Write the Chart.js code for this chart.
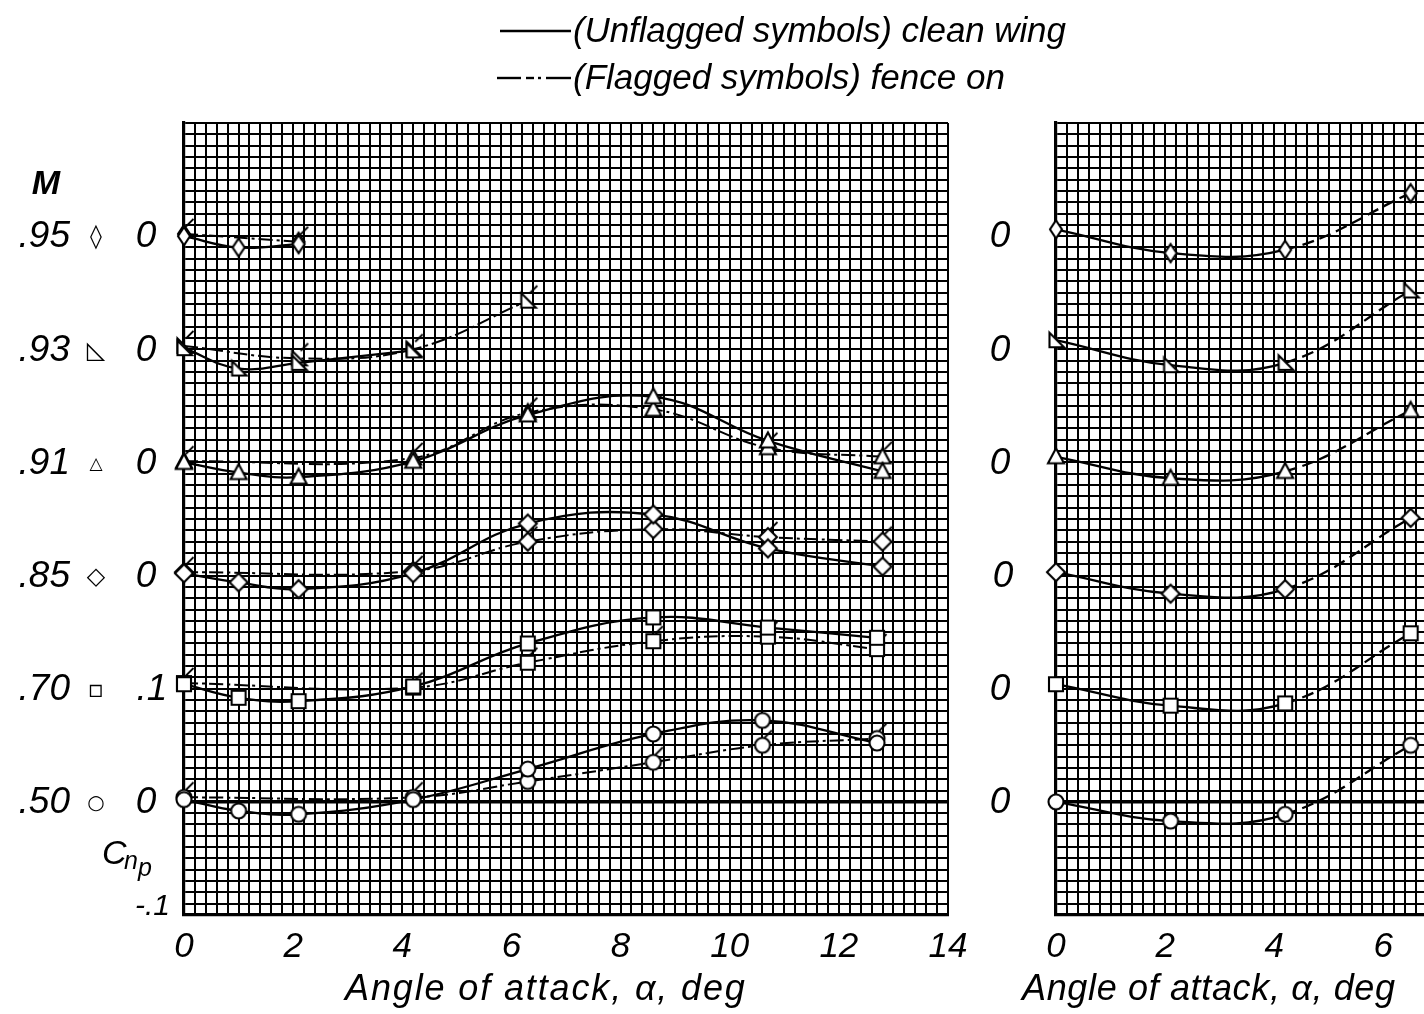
<!DOCTYPE html>
<html><head><meta charset="utf-8">
<script src="https://cdn.jsdelivr.net/npm/chart.js@4/dist/chart.umd.min.js"></script>
<style>
html,body{margin:0;padding:0;background:#fff;overflow:hidden;width:1424px;height:1014px;position:relative;}
canvas{position:absolute;top:0;}
#c1{left:0;}
#c2{left:970px;}
</style></head><body>
<canvas id="c1" width="1100" height="1014"></canvas>
<canvas id="c2" width="470" height="1014"></canvas>
<script>
// ---------------- DATA ----------------
const machLabels   = ['.50', '.70', '.85', '.91', '.93', '.95'];
const machSymbols  = ['○', '▫', '◇', '△', '◺', '◊'];
const rowOffsets   = [0, 0.1, 0.2, 0.3, 0.4, 0.5];
const cnpRowLabels = ['0', '.1', '0', '0', '0', '0'];
const rightRowLabels = ['0', '0', '0', '0', '0', '0'];
const cnpBottomLabel = '-.1';
const xTickLabelsLeft = [0, 2, 4, 6, 8, 10, 12, 14];
const xTickLabelsRight = [0, 2, 4, 6];
const xTitle = 'Angle of attack, α, deg';
const legendTexts = ['(Unflagged symbols) clean wing', '(Flagged symbols) fence on'];

// M = .50
const alpha50Clean = [0, 1, 2.1, 4.2, 6.3, 8.6, 10.6, 12.7];
const cnp50Clean   = [0.002, -0.008, -0.011, 0.002, 0.029, 0.060, 0.072, 0.052];
const alpha50Fence = [0, 4.2, 6.3, 8.6, 10.6, 12.7];
const cnp50Fence   = [0.004, 0.004, 0.018, 0.035, 0.050, 0.056];
// M = .70
const alpha70Clean = [0, 1, 2.1, 4.2, 6.3, 8.6, 10.7, 12.7];
const cnp70Clean   = [0.004, -0.008, -0.011, 0.002, 0.040, 0.063, 0.054, 0.045];
const alpha70Fence = [0, 4.2, 6.3, 8.6, 10.7, 12.7];
const cnp70Fence   = [0.005, 0.001, 0.023, 0.042, 0.046, 0.035];
// M = .85
const alpha85Clean = [0, 1, 2.1, 4.2, 6.3, 8.6, 10.7, 12.8];
const cnp85Clean   = [0.002, -0.006, -0.012, 0.002, 0.046, 0.054, 0.024, 0.008];
const alpha85Fence = [0, 4.2, 6.3, 8.6, 10.7, 12.8];
const cnp85Fence   = [0.003, 0.004, 0.030, 0.041, 0.034, 0.030];
// M = .91
const alpha91Clean = [0, 1, 2.1, 4.2, 6.3, 8.6, 10.7, 12.8];
const cnp91Clean   = [0.000, -0.009, -0.013, 0.001, 0.042, 0.058, 0.019, -0.008];
const alpha91Fence = [0, 4.2, 6.3, 8.6, 10.7, 12.8];
const cnp91Fence   = [0.001, 0.004, 0.044, 0.047, 0.013, 0.005];
// M = .93
const alpha93Clean = [0, 1, 2.1, 4.2];
const cnp93Clean   = [0.001, -0.017, -0.012, -0.001];
const alpha93Fence = [0, 2.1, 4.2, 6.3];
const cnp93Fence   = [0.003, -0.008, 0.000, 0.043];
// M = .95
const alpha95Clean = [0, 1, 2.1];
const cnp95Clean   = [0.000, -0.010, -0.007];
const alpha95Fence = [0, 2.1];
const cnp95Fence   = [0.002, -0.005];

// right panel
const alphaRight = [0, 2.1, 4.2, 6.5];
const cnpRight50 = [0.000, -0.017, -0.011, 0.050];
const cnpRight70 = [0.004, -0.015, -0.013, 0.049];
const cnpRight85 = [0.003, -0.016, -0.012, 0.051];
const cnpRight91 = [0.005, -0.014, -0.008, 0.046];
const cnpRight93 = [0.008, -0.014, -0.012, 0.052];
const cnpRight95 = [0.006, -0.015, -0.012, 0.038];

const cleanSets = [
  [alpha50Clean, cnp50Clean], [alpha70Clean, cnp70Clean], [alpha85Clean, cnp85Clean],
  [alpha91Clean, cnp91Clean], [alpha93Clean, cnp93Clean], [alpha95Clean, cnp95Clean]];
const fenceSets = [
  [alpha50Fence, cnp50Fence], [alpha70Fence, cnp70Fence], [alpha85Fence, cnp85Fence],
  [alpha91Fence, cnp91Fence], [alpha93Fence, cnp93Fence], [alpha95Fence, cnp95Fence]];
const rightSets = [cnpRight50, cnpRight70, cnpRight85, cnpRight91, cnpRight93, cnpRight95];

// ---------------- STYLE ----------------
const shapes = ['circle', 'square', 'diamond', 'triangle', 'rightTri', 'thinDiamond'];
const FONT = '"Liberation Sans", Arial, sans-serif';

function marker(shape, flag) {
  const c = document.createElement('canvas');
  c.width = 34; c.height = 34;
  const g = c.getContext('2d');
  g.translate(17, 17);
  g.lineWidth = 2.1; g.strokeStyle = '#000'; g.fillStyle = '#fff';
  g.beginPath();
  if (shape === 'circle') g.arc(0, 0, 7.5, 0, Math.PI * 2);
  else if (shape === 'square') g.rect(-7, -7, 14, 14);
  else if (shape === 'diamond') { g.moveTo(0, -9); g.lineTo(9, 0); g.lineTo(0, 9); g.lineTo(-9, 0); g.closePath(); }
  else if (shape === 'thinDiamond') { g.moveTo(0, -9); g.lineTo(6, 0); g.lineTo(0, 9); g.lineTo(-6, 0); g.closePath(); }
  else if (shape === 'triangle') { g.moveTo(0, -8.5); g.lineTo(8, 6.5); g.lineTo(-8, 6.5); g.closePath(); }
  else if (shape === 'rightTri') { g.moveTo(-6.5, -7.5); g.lineTo(-6.5, 7); g.lineTo(8, 7); g.closePath(); }
  g.fill(); g.stroke();
  if (flag) {
    g.beginPath(); g.lineWidth = 1.8;
    g.moveTo(2, -7.5); g.lineTo(9.5, -15); g.stroke();
  }
  return c;
}
const cleanMarkers = shapes.map(s => marker(s, false));
const fenceMarkers = shapes.map(s => marker(s, true));

function pts(alpha, cnp, off) { return alpha.map((a, k) => ({ x: a, y: off + cnp[k] })); }

function gridWidth(ctx) {
  const v = ctx.tick ? ctx.tick.value : 1;
  if (Math.abs(v) < 1e-9 && ctx.scale.axis === 'y') return 3.4;
  return 2;
}

function fitText(ctx, text, x1, x2, yMid, font) {
  ctx.font = font;
  ctx.letterSpacing = '0px';
  const w = ctx.measureText(text).width;
  const sp = (x2 - x1 - w) / Math.max(1, text.length - 1);
  ctx.letterSpacing = sp.toFixed(2) + 'px';
  ctx.textAlign = 'left'; ctx.textBaseline = 'middle';
  ctx.fillText(text, x1, yMid);
  ctx.letterSpacing = '0px';
}

function baseScales(xMax, yWidth, xTicks) {
  return {
    x: {
      type: 'linear', min: 0, max: xMax,
      grid: { color: '#000', lineWidth: gridWidth, drawTicks: false },
      border: { display: true, color: '#000', width: 3.2 },
      ticks: {
        stepSize: 0.2, autoSkip: false, maxRotation: 0, maxTicksLimit: 1000,
        padding: 11, color: '#000',
        font: { family: FONT, style: 'italic', size: 35 },
        callback: v => {
          const r = Math.round(v);
          return (Math.abs(v - r) < 1e-6 && xTicks.includes(r)) ? String(r) : '';
        }
      },
      afterFit: s => { s.height = 99; }
    },
    y: {
      type: 'linear', min: -0.1, max: 0.6,
      grid: { color: '#000', lineWidth: gridWidth, drawTicks: false },
      border: { display: true, color: '#000', width: 3.2 },
      ticks: { stepSize: 0.01, maxTicksLimit: 1000, display: false },
      afterFit: s => { s.width = yWidth; }
    }
  };
}

// ---------------- LEFT CHART ----------------
const leftDatasets = [];
for (let i = 0; i < 6; i++) {
  leftDatasets.push({
    data: pts(cleanSets[i][0], cleanSets[i][1], rowOffsets[i]),
    borderColor: '#000', borderWidth: 2.3, tension: 0.4, fill: false, clip: false,
    pointStyle: cleanMarkers[i], pointRadius: 8
  });
  leftDatasets.push({
    data: pts(fenceSets[i][0], fenceSets[i][1], rowOffsets[i]),
    borderColor: '#000', borderWidth: 2, tension: 0.4, fill: false, clip: false,
    borderDash: [14, 4, 3, 4],
    pointStyle: fenceMarkers[i], pointRadius: 8
  });
}

const leftText = {
  id: 'leftText',
  afterDraw(chart) {
    const ctx = chart.ctx, ys = chart.scales.y;
    ctx.save();
    ctx.fillStyle = '#000'; ctx.strokeStyle = '#000';
    // legend line samples
    ctx.lineWidth = 2.6;
    ctx.beginPath(); ctx.moveTo(500, 31); ctx.lineTo(571, 31); ctx.stroke();
    ctx.lineWidth = 2.4;
    [[497, 521], [526, 534], [538, 541], [546, 571]].forEach(s => {
      ctx.beginPath(); ctx.moveTo(s[0], 78); ctx.lineTo(s[1], 78); ctx.stroke();
    });
    fitText(ctx, legendTexts[0], 573, 1066, 32, 'italic 35px ' + FONT);
    fitText(ctx, legendTexts[1], 573, 1005, 79, 'italic 35px ' + FONT);
    // M header
    ctx.font = 'bold italic 34px ' + FONT;
    ctx.textAlign = 'center'; ctx.textBaseline = 'middle';
    ctx.fillText('M', 46, 185);
    const symSize = ['20px', '24px', '24px', '17px', '24px', '24px'];
    for (let i = 0; i < 6; i++) {
      const y = ys.getPixelForValue(rowOffsets[i]);
      ctx.font = 'italic 37px ' + FONT;
      ctx.textAlign = 'right'; ctx.textBaseline = 'middle';
      ctx.fillText(machLabels[i], 70, y + 1);
      ctx.font = 'bold ' + symSize[i] + ' "DejaVu Sans"';
      ctx.textAlign = 'center';
      ctx.fillText(machSymbols[i], 96, y + 2);
      ctx.font = 'italic 37px ' + FONT;
      ctx.fillText(cnpRowLabels[i], i === 1 ? 152 : 146, y + 1);
    }
    const yb = ys.getPixelForValue(-0.1);
    ctx.font = 'italic 30px ' + FONT;
    ctx.textAlign = 'right';
    ctx.fillText(cnpBottomLabel, 170, yb - 8);
    // Cnp
    ctx.textAlign = 'left';
    ctx.font = 'italic 34px ' + FONT; ctx.fillText('C', 102, 855);
    ctx.font = 'italic 25px ' + FONT; ctx.fillText('n', 124, 862);
    ctx.font = 'italic 25px ' + FONT; ctx.fillText('p', 138, 869);
    // x title
    fitText(ctx, xTitle, 345, 745, 990, 'italic 36px ' + FONT);
    ctx.restore();
  }
};

new Chart(document.getElementById('c1'), {
  type: 'line',
  data: { datasets: leftDatasets },
  options: {
    responsive: false, animation: false, devicePixelRatio: 1,
    layout: { padding: { left: 0, right: 152, top: 123, bottom: 0 } },
    plugins: { legend: { display: false }, tooltip: { enabled: false } },
    scales: baseScales(14, 184, xTickLabelsLeft)
  },
  plugins: [leftText]
});

// ---------------- RIGHT CHART ----------------
const rightDatasets = rightSets.map((cnp, i) => ({
  data: pts(alphaRight, cnp, rowOffsets[i]),
  borderColor: '#000', borderWidth: 2.3, tension: 0.4, fill: false, clip: false,
  pointStyle: cleanMarkers[i], pointRadius: 8,
  segment: { borderDash: c => c.p0DataIndex >= 2 ? [12, 6] : undefined }
}));

const rightText = {
  id: 'rightText',
  afterDraw(chart) {
    const ctx = chart.ctx, ys = chart.scales.y;
    ctx.save(); ctx.fillStyle = '#000';
    ctx.font = 'italic 37px ' + FONT;
    ctx.textAlign = 'center'; ctx.textBaseline = 'middle';
    for (let i = 0; i < 6; i++) {
      const y = ys.getPixelForValue(rowOffsets[i]);
      ctx.fillText(rightRowLabels[i], i === 2 ? 33 : 30, y + 1);
    }
    fitText(ctx, xTitle, 52, 425, 990, 'italic 36px ' + FONT);
    ctx.restore();
  }
};

new Chart(document.getElementById('c2'), {
  type: 'line',
  data: { datasets: rightDatasets },
  options: {
    responsive: false, animation: false, devicePixelRatio: 1,
    layout: { padding: { left: 0, right: 13, top: 123, bottom: 0 } },
    plugins: { legend: { display: false }, tooltip: { enabled: false } },
    scales: baseScales(6.8, 86, xTickLabelsRight)
  },
  plugins: [rightText]
});
</script>
</body></html>
